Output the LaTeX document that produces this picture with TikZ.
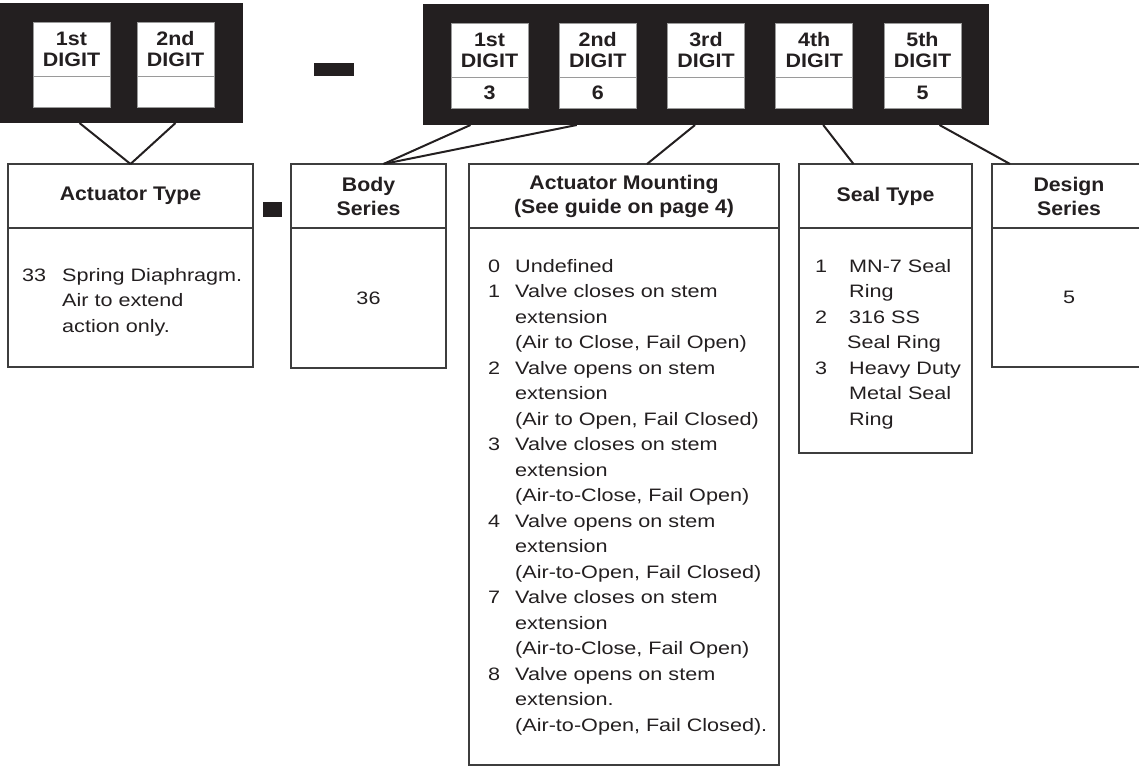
\documentclass[tikz,border=0pt]{standalone}
\usepackage{fontspec}
\usepackage{xcolor}
\usetikzlibrary{positioning, calc}
\newfontfamily\bodyfont{Liberation Sans}[FakeStretch=1.2]
\newfontfamily\headfont{Liberation Sans}[FakeStretch=1.08]
\newfontfamily\digitfont{Liberation Sans}[FakeStretch=1.1]
\definecolor{inkblack}{HTML}{231f20}
\definecolor{rulegray}{HTML}{3d3d3d}
\definecolor{cellgray}{HTML}{9a9a9a}
\newcommand{\itemno}[2][27pt]{\makebox[#1][l]{#2}}
\newcommand{\itemgap}[1][27pt]{\hspace*{#1}}

\begin{document}
\begin{tikzpicture}[
    x=1pt, y=-1pt,
    frame/.style={fill=inkblack, draw=none, inner sep=0pt, outer sep=0pt},
    cell/.style={fill=white, draw=cellgray, line width=0.8pt, minimum width=77pt, inner sep=0pt, outer sep=0pt, align=center, text=inkblack, font=\digitfont\bfseries\fontsize{19.5}{21}\selectfont},
    celltop/.style={cell, minimum height=54pt},
    cellval/.style={cell, minimum height=31pt},
    head/.style={draw=rulegray, line width=1.3pt, minimum height=64pt, inner sep=0pt, outer sep=0pt, align=center, text=inkblack, font=\headfont\bfseries\fontsize{19.7}{24}\selectfont},
    body/.style={draw=rulegray, line width=1.3pt, inner sep=0pt, outer sep=0pt, text=inkblack, font=\bodyfont\fontsize{18}{25.5}\selectfont},
    list/.style={anchor=north west, inner sep=0pt, align=left, text=inkblack, font=\bodyfont\fontsize{18}{25.5}\selectfont},
    link/.style={draw=inkblack, line width=2pt}
]
\useasboundingbox (0,0) rectangle (1139,776);

% Code frames
\node[frame, minimum width=243pt, minimum height=120pt] (typeframe) at (121.5,63) {};
\node[frame, minimum width=566pt, minimum height=121pt] (modelframe) at (706,64.5) {};
\node[frame, minimum width=40pt, minimum height=13pt] (sepdash) at (334,69.5) {};

\node[celltop] (t1) at (71.5,49) {1st\\DIGIT};
\node[cellval, below=0pt of t1] (tv1) {};
\node[celltop] (t2) at (175.5,49) {2nd\\DIGIT};
\node[cellval, below=0pt of t2] (tv2) {};

\foreach \i/\ord/\val in {1/1st/3, 2/2nd/6, 3/3rd/{}, 4/4th/{}, 5/5th/5} {
    \node[celltop] (m\i) at ({489.5+(\i-1)*108.25},50) {\ord\\DIGIT};
    \node[cellval, below=0pt of m\i] (mv\i) {\val};
}

% Boxes
\node[head, minimum width=245pt] (typehead) at (130.5,196) {Actuator Type};
\node[body, minimum width=245pt, minimum height=139pt, below=0pt of typehead] (typebody) {};
\node[list] (typelist) at ($(typebody.north west)+(14,40)$) {\itemno[40pt]{33}Spring Diaphragm.\\
    \itemgap[40pt]Air to extend\\
    \itemgap[40pt]action only.};

\node[frame, minimum width=19pt, minimum height=15pt] (sepsq) at (272.5,209.5) {};

\node[head, minimum width=155pt] (serieshead) at (368.5,196) {Body\\Series};
\node[body, minimum width=155pt, minimum height=140pt, below=0pt of serieshead] (seriesbody) {36};

\node[head, minimum width=310pt] (mounthead) at (624,196) {Actuator Mounting\\(See guide on page 4)};
\node[body, minimum width=310pt, minimum height=537pt, below=0pt of mounthead] (mountbody) {};
\node[list] (mountlist) at ($(mountbody.north west)+(19,31)$) {\itemno{0}Undefined\\
    \itemno{1}Valve closes on stem\\
    \itemgap extension\\
    \itemgap (Air to Close, Fail Open)\\
    \itemno{2}Valve opens on stem\\
    \itemgap extension\\
    \itemgap (Air to Open, Fail Closed)\\
    \itemno{3}Valve closes on stem\\
    \itemgap extension\\
    \itemgap (Air-to-Close, Fail Open)\\
    \itemno{4}Valve opens on stem\\
    \itemgap extension\\
    \itemgap (Air-to-Open, Fail Closed)\\
    \itemno{7}Valve closes on stem\\
    \itemgap extension\\
    \itemgap (Air-to-Close, Fail Open)\\
    \itemno{8}Valve opens on stem\\
    \itemgap extension.\\
    \itemgap (Air-to-Open, Fail Closed).};

\node[head, minimum width=173pt] (sealhead) at (885.5,196) {Seal Type};
\node[body, minimum width=173pt, minimum height=225pt, below=0pt of sealhead] (sealbody) {};
\node[list] (seallist) at ($(sealbody.north west)+(16,31)$) {\itemno[34pt]{1}MN-7 Seal\\
    \itemgap[34pt]Ring\\
    \itemno[34pt]{2}316 SS\\
    \itemgap[32pt]Seal Ring\\
    \itemno[34pt]{3}Heavy Duty\\
    \itemgap[34pt]Metal Seal\\
    \itemgap[34pt]Ring};

\node[head, minimum width=154pt] (designhead) at (1069,196) {Design\\Series};
\node[body, minimum width=154pt, minimum height=139pt, below=0pt of designhead] (designbody) {5};

% Links
\draw[link] ($(t1 |- typeframe.south)+(8,0)$) -- (typehead.north);
\draw[link] (t2 |- typeframe.south) -- (typehead.north);
\draw[link] ($(m1 |- modelframe.south)+(-19,0)$) -- ($(serieshead.north)+(15,0)$);
\draw[link] ($(m2 |- modelframe.south)+(-21,0)$) -- ($(serieshead.north)+(15,0)$);
\draw[link] ($(m3 |- modelframe.south)+(-11,0)$) -- ($(mounthead.north)+(23,0)$);
\draw[link] ($(m4 |- modelframe.south)+(9,0)$) -- ($(sealhead.north)+(-32,0)$);
\draw[link] ($(m5 |- modelframe.south)+(17,0)$) -- ($(designhead.north west)+(18,0)$);

\end{tikzpicture}
\end{document}
